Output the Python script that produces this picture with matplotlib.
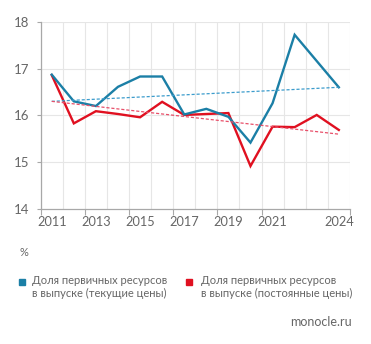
import matplotlib
matplotlib.use("Agg")
import matplotlib.pyplot as plt
import numpy as np

years = list(range(2011, 2025))
share_current = [16.87, 16.30, 16.20, 16.61, 16.83, 16.83, 16.02, 16.14, 15.97, 15.42, 16.26, 17.72, 17.16, 16.60]
share_constant = [16.86, 15.83, 16.09, 16.03, 15.96, 16.29, 16.01, 16.03, 16.05, 14.92, 15.76, 15.75, 16.01, 15.69]
trend_current = [16.30, 16.60]
trend_constant = [16.30, 15.60]
xtick_labels = ["2011", "2013", "2015", "2017", "2019", "2021", "2024"]
ytick_values = [14, 15, 16, 17, 18]
legend_labels = ["Доля первичных ресурсов\nв выпуске (текущие цены)",
                 "Доля первичных ресурсов\nв выпуске (постоянные цены)"]

BLUE = "#1b7fa6"
RED = "#e01020"
BLUE_T = "#3c9ccc"
RED_T = "#e8506a"
GRID = "#e6e6e6"
SPINE = "#a8a8a8"
TXT = "#666666"

plt.rcParams['font.family'] = ['Lato', 'DejaVu Sans']

fig = plt.figure(figsize=(3.71, 3.44), dpi=100)
ax = fig.add_axes([0.1097, 0.392, 0.8333, 0.545])

x = np.array(years)
ax.plot(x, share_current, color=BLUE, lw=1.7, solid_joinstyle='miter', zorder=4)
ax.plot(x, share_constant, color=RED, lw=1.7, solid_joinstyle='miter', zorder=3)
ax.plot([years[0], years[-1]], trend_current, color=BLUE_T, lw=0.9, ls=(0, (2.5, 1.5)), zorder=5)
ax.plot([years[0], years[-1]], trend_constant, color=RED_T, lw=0.9, ls=(0, (2.5, 1.5)), zorder=5)

ax.set_xlim(years[0] - 0.5, years[-1] + 0.5)
ax.set_ylim(14, 18)

for b in np.arange(years[0] - 0.5, years[-1] + 1.0, 1.0):
    ax.axvline(b, color=GRID, lw=0.8, zorder=0)
for v in ytick_values[1:]:
    ax.axhline(v, color=GRID, lw=0.8, zorder=0)

ax.set_yticks(ytick_values)
ax.set_yticklabels([str(v) for v in ytick_values])
ax.tick_params(axis='y', length=3, width=0.8, color=SPINE, labelcolor=TXT, labelsize=9.5, pad=5)

ax.set_xticks([2010.5, 2012.5, 2014.5, 2016.5, 2018.5, 2020.5, 2024.5])
ax.set_xticklabels([])
ax.tick_params(axis='x', length=4, width=0.8, color=SPINE, direction='out')
for lab in xtick_labels:
    ax.text(int(lab), 13.86, lab, ha='center', va='top', fontsize=9.2, color=TXT,
            transform=ax.transData)

for s in ['top', 'right']:
    ax.spines[s].set_visible(False)
for s in ['left', 'bottom']:
    ax.spines[s].set_color(SPINE)
    ax.spines[s].set_linewidth(0.9)

# legend and notes
fig.text(20 / 371, 1 - 253 / 344, "%", fontsize=8, color=TXT, va='center', ha='left')
for i, (col, lab) in enumerate(zip([BLUE, RED], legend_labels)):
    sx = [22, 189][i]
    tx = [32, 201][i]
    fig.patches.append(plt.Rectangle(((sx - 3) / 371, 1 - 284.5 / 344), 6 / 371, 6 / 344,
                                     transform=fig.transFigure, color=col, figure=fig))
    fig.text(tx / 371, 1 - 275 / 344, lab, fontsize=8, color=TXT, va='top', ha='left',
             linespacing=1.25)

fig.text(352 / 371, 1 - 322 / 344, "monocle.ru", fontsize=9, color=TXT, va='center', ha='right')

fig.savefig("out.png", dpi=100)
